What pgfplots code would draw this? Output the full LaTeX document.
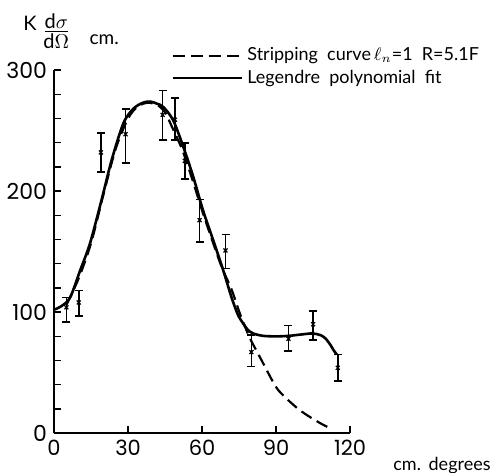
\documentclass[border=0pt]{standalone}
\usepackage{pgfplots}
\pgfplotsset{compat=1.18}
\usepackage{fontspec}
\setmainfont{Lato}
\newfontfamily\tickfont{Poppins}

\begin{document}
\begin{tikzpicture}
\begin{axis}[
    width=148pt, height=181.5pt, scale only axis,
    xmin=0, xmax=120, ymin=0, ymax=300,
    axis x line*=bottom, axis y line*=left,
    axis line style={-, line width=0.7pt},
    xtick={0,30,60,90,120}, ytick={0,100,200,300},
    minor ytick={20,40,60,80,120,140,160,180,220,240,260,280},
    tick align=inside, major tick length=3.5pt, minor tick length=3.5pt,
    tick style={line width=0.7pt, black},
    xticklabel style={font=\tickfont\fontsize{10.5}{12}\selectfont},
    yticklabel style={font=\tickfont\fontsize{11}{13}\selectfont},
    /pgf/number format/assume math mode=true,
    clip=false,
]
% frame of the reference image
\coordinate (bl) at (axis cs:-21.9,-32.2);
\coordinate (tr) at (axis cs:177.5,357.9);

% stripping curve
\addplot[black, line width=1.1pt, dash pattern=on 6pt off 3pt, smooth] coordinates {
(5,106) (10,128) (15,157) (20,197) (25,235) (30,260) (34,270) (38,273)
(42,271) (45,265) (47.6,254) (52,234) (56,210) (60,184) (64,160) (68,137)
(71.9,119) (75.3,99) (78,85) (80,76) (84.1,60.3) (89.5,39.7) (92.8,31.4)
(99.6,19) (107,9.3) (111.5,4.5)};

% Legendre polynomial fit
\addplot[black, line width=1.3pt, smooth] coordinates {
(0,102) (3,105) (6.5,112) (10.5,134) (14.6,157) (19.3,193) (23.4,226)
(28.1,256) (32.1,268) (36,273) (39,274) (42,272) (44.3,269.5) (48.3,258.5)
(52.4,236.5) (56.4,212) (60.4,184) (64.5,159.5) (68.5,135) (71.9,112.5)
(74.5,98) (76.7,90.5) (78.5,85.5) (80.7,82.4) (84.8,80.4) (90,80) (95,80.4)
(100,81.5) (104.7,82.4) (108,81) (110,78.3) (112,73) (113.3,68.6) (114.6,65)};

% measured points
\addplot[black, only marks, mark=x, mark size=1.4pt, line width=0.6pt,
    error bars/.cd, y dir=both, y explicit,
    error bar style={line width=0.8pt},
    error mark options={black, mark size=2pt, line width=0.8pt, rotate=90}]
    table[x=x, y=y, y error plus=ep, y error minus=em] {
x y ep em
5 104 8 12
10 108 10 11
19 232 16 16
29 247 21 24
44 263 20 21
49 259 18 17
53 225 15 15
59 176 17 18
69.5 151 13 15
80 67 14 12
95 78 11 10
105 90 11 13
115 54 11 11
};

% key
\draw[black, line width=1.1pt, dash pattern=on 6pt off 3pt]
    (axis cs:48.2,311.6) -- (axis cs:76.2,311.6);
\draw[black, line width=1.3pt] (axis cs:48.2,293.4) -- (axis cs:76.2,293.4);
\node[anchor=west, inner sep=0pt, font=\fontsize{9}{11}\selectfont]
    at (axis cs:78.2,311.6) {Stripping\ \ curve\,$\ell_{n}$=1\ \ R=5.1F};
\node[anchor=west, inner sep=0pt, font=\fontsize{9}{11}\selectfont]
    at (axis cs:78.2,293.4) {Legendre\ \ polynomial\ \ fit};

% axis titles
\node at (axis cs:-9.7,338.5) {\fontsize{10}{12}\selectfont K};
\node[align=center, inner sep=0pt, font=\fontsize{10}{11}\selectfont]
    at (axis cs:0.9,332) {$\underline{\mbox{d}\sigma}$\\[-1pt]d$\Omega$};
\node[font=\fontsize{9.5}{11}\selectfont] at (axis cs:20.3,325) {cm.};
\node[anchor=east, inner sep=0pt, font=\fontsize{9}{11}\selectfont]
    at (axis cs:177.1,-26.4) {cm.\ \,degrees};
\end{axis}
\pgfresetboundingbox
\path (bl) rectangle (tr);
\end{tikzpicture}
\end{document}
